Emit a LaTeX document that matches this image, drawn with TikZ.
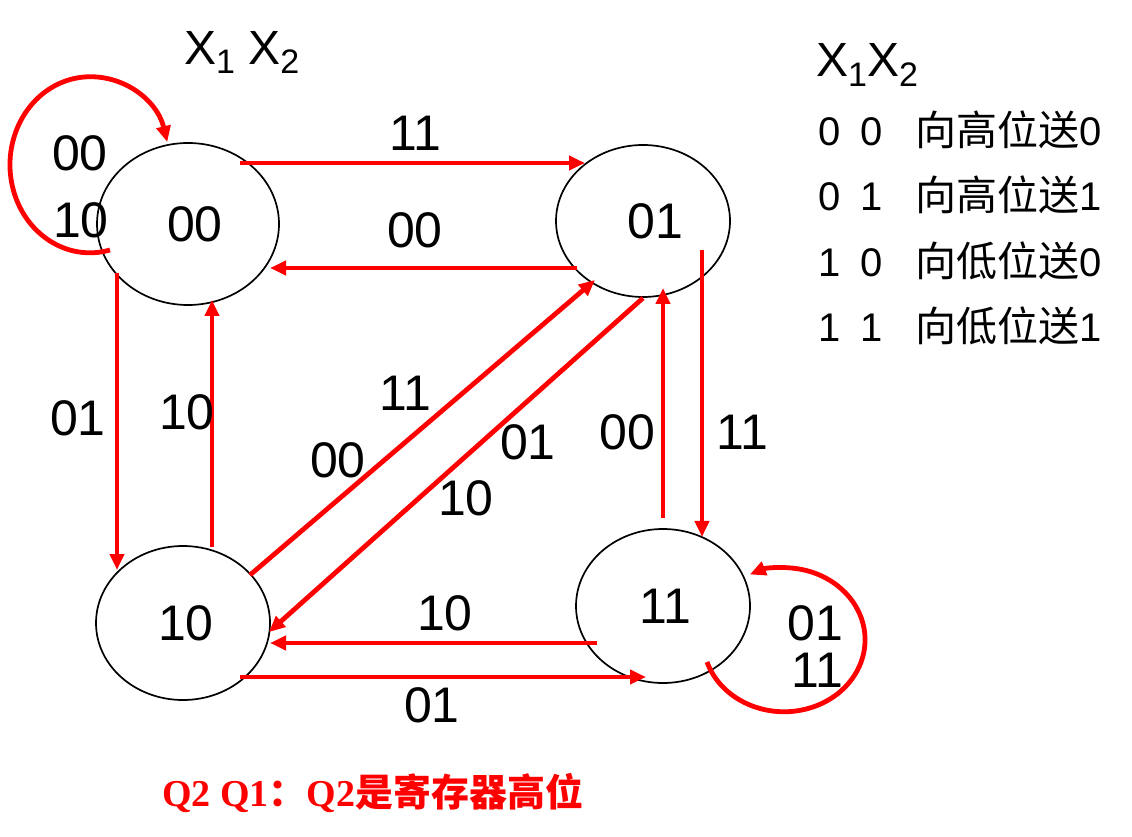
\documentclass[tikz,border=0pt]{standalone}
\usepackage{fontspec}
\setmainfont{Liberation Sans}
\newfontfamily\cjk{Noto Sans CJK SC}
\newfontfamily\serifb{Liberation Serif}
\usetikzlibrary{arrows.meta,shapes.geometric,calc}
\begin{document}
\begin{tikzpicture}[x=1pt,y=1pt,
  state/.style={draw=black,line width=1.7pt,ellipse,minimum width=174pt,minimum height=154pt,inner sep=0pt,font=\fontsize{50}{60}\selectfont},
  tr/.style={draw=red,line width=4.8pt,-{Triangle[length=16pt,width=14pt]}},
  lbl/.style={font=\fontsize{50}{60}\selectfont,inner sep=0pt},
  leg/.style={font=\fontsize{40}{48}\selectfont,anchor=base west,inner sep=0pt},
  hdr/.style={anchor=base west,inner sep=0pt,font=\fontsize{48}{56}\selectfont}]
\useasboundingbox (0,0) rectangle (1132,836);
% states
\node[state,minimum width=182pt,minimum height=162pt] (s00) at (188,612) {\kern14pt 00};
\node[state,minimum height=152pt] (s01) at (643,615) {\kern24pt 01};
\node[state] (s10) at (183,213) {\kern6pt 10};
\node[state] (s11) at (663,230) {\kern4pt 11};
% transitions
\draw[tr] ($(s00.center)+(52,61)$) -- ($(s01.center)+(-58,58)$);
\draw[tr] ($(s01.center)+(-66,-47)$) -- ($(s00.center)+(82,-44)$);
\draw[tr] ($(s00.center)+(-71,-49)$) -- ($(s10.center)+(-66,53)$);
\draw[tr] ($(s10.center)+(29,76)$) -- ($(s00.center)+(24,-76)$);
\draw[tr] ($(s01.center)+(59,-29)$) -- ($(s11.center)+(39,69)$);
\draw[tr] ($(s11.center)+(0,88)$) -- ($(s01.center)+(20,-67)$);
\draw[tr] ($(s10.center)+(57,-54)$) -- ($(s11.center)+(-17,-71)$);
\draw[tr] ($(s11.center)+(-66,-37)$) -- ($(s10.center)+(87,-20)$);
\draw[tr] ($(s10.center)+(67,48)$) -- ($(s01.center)+(-48,-59)$);
\draw[tr] ($(s01.center)+(0,-77)$) -- ($(s10.center)+(86,-9)$);
% self loops
\draw[tr] ($(s00.center)+(-78,-26)$) arc[start angle=284.5,end angle=15,x radius=80,y radius=88];
\draw[tr] ($(s11.center)+(44,-56)$) arc[start angle=198,end angle=475,x radius=81,y radius=72];
% transition labels
\node[lbl] (l1) at (415,703) {11};
\node[lbl] (l2) at (415,606) {00};
\node[lbl] (l3) at (78,418) {01};
\node[lbl] (l4) at (187,424) {10};
\node[lbl] (l5) at (405,443) {11};
\node[lbl] (l6) at (338,376) {00};
\node[lbl] (l7) at (528,394) {01};
\node[lbl] (l8) at (466,338) {10};
\node[lbl] (l9) at (627,404) {00};
\node[lbl] (l10) at (742,404) {11};
\node[lbl] (l11) at (445,223) {10};
\node[lbl] (l12) at (432,131) {01};
\node[lbl] (l13) at (80,683) {00};
\node[lbl] (l14) at (81,616) {10};
\node[lbl] (l15) at (815,213) {01};
\node[lbl] (l16) at (817,166) {11};
% headers
\node[hdr] (hx) at (184,771)
  {X\raisebox{-9pt}{\fontsize{34}{34}\selectfont 1} X\raisebox{-9pt}{\fontsize{34}{34}\selectfont 2}};
\node[hdr] (rx) at (816,759)
  {X\raisebox{-10pt}{\fontsize{34}{34}\selectfont 1}X\raisebox{-10pt}{\fontsize{34}{34}\selectfont 2}};
% legend
\node[leg] (r1) at (818,690) {\makebox[42pt][l]{0}\makebox[55pt][l]{0}{\cjk\fontsize{41}{48}\selectfont 向高位送}0};
\node[leg] (r2) at (818,625) {\makebox[42pt][l]{0}\makebox[55pt][l]{1}{\cjk\fontsize{41}{48}\selectfont 向高位送}1};
\node[leg] (r3) at (818,559) {\makebox[42pt][l]{1}\makebox[55pt][l]{0}{\cjk\fontsize{41}{48}\selectfont 向低位送}0};
\node[leg] (r4) at (818,494) {\makebox[42pt][l]{1}\makebox[55pt][l]{1}{\cjk\fontsize{41}{48}\selectfont 向低位送}1};
% bottom note
\node[anchor=base west,inner sep=0pt,text=red,font=\fontsize{38}{44}\selectfont] (note) at (162,30)
  {{\serifb\bfseries Q2 Q1}{\cjk\bfseries ：}{\serifb\bfseries Q2}{\cjk\bfseries 是寄存器高位}};
\end{tikzpicture}
\end{document}
